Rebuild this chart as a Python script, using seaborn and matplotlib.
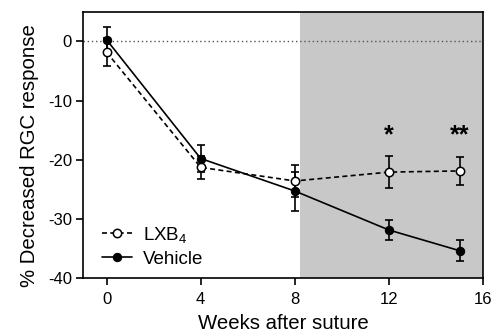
import matplotlib
matplotlib.use("Agg")
import matplotlib.pyplot as plt
import seaborn as sns
import pandas as pd
import numpy as np

weeks = [0, 4, 8, 12, 15]
lxb4_mean = [-1.8, -21.3, -23.6, -22.1, -21.9]
lxb4_err = [2.4, 1.9, 2.7, 2.7, 2.4]
veh_mean = [0.3, -19.8, -25.3, -31.9, -35.4]
veh_err = [2.2, 2.3, 3.3, 1.7, 1.8]
xticks = [0, 4, 8, 12, 16]
yticks = [0, -10, -20, -30, -40]
stars = [(12, "*"), (15, "**")]

sns.set_theme(style="ticks")
plt.rcParams['font.family'] = ['Liberation Sans', 'DejaVu Sans']
plt.rcParams['mathtext.default'] = 'regular'
plt.rcParams['axes.unicode_minus'] = False
for k in ['text.color', 'axes.labelcolor', 'xtick.color', 'ytick.color', 'axes.edgecolor']:
    plt.rcParams[k] = 'black'

df = pd.DataFrame({
    "week": weeks * 2,
    "value": lxb4_mean + veh_mean,
    "group": ["LXB$_4$"] * len(weeks) + ["Vehicle"] * len(weeks),
})

fig = plt.figure(figsize=(4.94, 3.32), dpi=100)
ax = fig.add_axes([0.168, 0.163, 0.81, 0.801])

ax.axvspan(8.2, 16, color="#c8c8c8", zorder=0, lw=0)
ax.axhline(0, color="#555555", ls=(0, (1, 2)), lw=1, zorder=1)

ax.errorbar(weeks, lxb4_mean, yerr=lxb4_err, fmt="none", ecolor="black",
            elinewidth=1.2, capsize=3, capthick=1.2, zorder=2)
ax.errorbar(weeks, veh_mean, yerr=veh_err, fmt="none", ecolor="black",
            elinewidth=1.2, capsize=3, capthick=1.2, zorder=2)

sub = df[df.group == "LXB$_4$"]
sns.lineplot(data=sub, x="week", y="value", ax=ax, color="black",
             linestyle=(0, (3, 2)), lw=1.2, marker="o", markersize=6,
             markerfacecolor="white", markeredgecolor="black",
             markeredgewidth=1.1, label="LXB$_4$", zorder=3)
sub = df[df.group == "Vehicle"]
sns.lineplot(data=sub, x="week", y="value", ax=ax, color="black",
             lw=1.2, marker="o", markersize=6,
             markerfacecolor="black", markeredgecolor="black",
             label="Vehicle", zorder=3)

for x, s in stars:
    ax.text(x, -15.9, s, ha="center", va="center", fontsize=18, fontweight="bold")

ax.set_xlim(-1, 16)
ax.set_ylim(-40, 5)
ax.set_xticks(xticks)
ax.set_yticks(yticks)
ax.set_xlabel("Weeks after suture", fontsize=14.7, labelpad=5)
ax.set_ylabel("% Decreased RGC response", fontsize=14.7)
ax.yaxis.set_label_coords(-0.11, 0.459)
ax.tick_params(labelsize=12, length=5, width=1.2, direction="out")
ax.tick_params(axis="x", pad=5)
ax.tick_params(axis="y", pad=3)
for sp in ax.spines.values():
    sp.set_linewidth(1.2)
    sp.set_color("black")

leg = ax.legend(loc="lower left", frameon=False, fontsize=13.5,
                handlelength=1.6, handletextpad=0.6, labelspacing=0.3,
                bbox_to_anchor=(0.005, -0.025))

fig.savefig("out.png", dpi=100)
